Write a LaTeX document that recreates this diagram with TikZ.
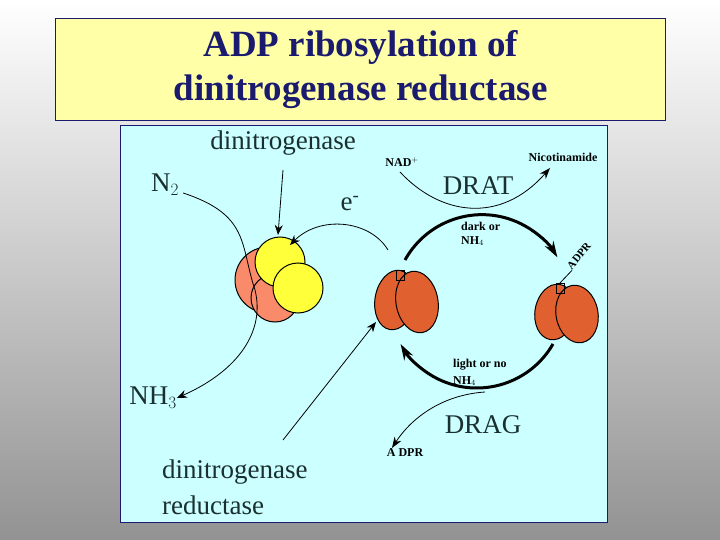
\documentclass[tikz,border=0pt]{standalone}
\usepackage{fontspec}
\setmainfont{Liberation Serif}
\usetikzlibrary{arrows.meta}
\definecolor{navy}{HTML}{1A1A6E}
\definecolor{ttl}{HTML}{FFFFA8}
\definecolor{pan}{HTML}{CCFFFF}
\definecolor{salmon}{HTML}{F98A6A}
\definecolor{yel}{HTML}{FFFF3A}
\definecolor{prot}{HTML}{E06030}
\definecolor{txt}{HTML}{1A3030}
\tikzset{thin arr/.style={-{Stealth[length=10pt,width=8pt]},line width=0.8pt},
 thick arr/.style={-{Stealth[length=16pt,width=10pt]},line width=3pt},
 big/.style={font=\fontsize{27}{30}\selectfont,text=txt,inner sep=0pt},
 small/.style={font=\bfseries\fontsize{12}{13}\selectfont,inner sep=0pt},
 blob/.style={fill=#1,draw=black,line width=1pt}}
\begin{document}
\begin{tikzpicture}[x=1pt,y=-1pt]
\shade[top color=white,bottom color=gray!85] (0,0) rectangle (720,540);
\useasboundingbox (0,0) rectangle (720,540);
\node[draw=navy,line width=1.2pt,fill=ttl,minimum width=610pt,minimum height=102pt,anchor=north west,align=center,font=\bfseries\fontsize{37}{44}\selectfont,text=navy] (title) at (55,18) {ADP ribosylation of\\dinitrogenase reductase};
\node[draw=navy,line width=1.2pt,fill=pan,minimum width=487pt,minimum height=397pt,anchor=north west] (panel) at (120,125) {};
% labels
\node[big] (dn) at (283,143) {dinitrogenase};
\node[big] (n2) at (165,185) {N$_2$};
\node[big] (nh3) at (153,398) {NH$_3$};
\node[big] (em) at (350,204) {e\textsuperscript{-}};
\node[big,anchor=west] (dr1) at (162,472) {dinitrogenase};
\node[big,anchor=west] (dr2) at (162,505) {reductase};
\node[big] (drat) at (478,186) {DRAT};
\node[big] (drag) at (483,425) {DRAG};
\node[small] (nad) at (402,162) {NAD$^{+}$};
\node[small] (nic) at (563,157) {Nicotinamide};
\node[small,anchor=west] (dk) at (461,226) {dark or};
\node[small,anchor=west] (dk2) at (461,241) {NH$_4$};
\node[small,anchor=west] (lt) at (453,365) {light or no};
\node[small,anchor=west] (lt2) at (453,381) {NH$_4$};
\node[small] (adpr2) at (405,453) {A DPR};
\node[small,rotate=50,font=\bfseries\fontsize{11}{12}\selectfont] (adpr1) at (579,256) {ADPR};
% dinitrogenase
\fill[salmon,draw=black,line width=1pt] (268,280) circle (33);
\fill[salmon,draw=black,line width=1pt] (275,298) circle (24);
\node[circle,blob=yel,minimum size=50pt] (y1) at (280,262) {};
\node[circle,blob=yel,minimum size=50pt] (y2) at (298,288) {};
% left protein
\draw[blob=prot,rotate around={-10:(395,300)}] (395,300) ellipse (20 and 30);
\draw[blob=prot,rotate around={10:(417,302)}] (417,302) ellipse (21 and 31);
\draw[line width=0.9pt] (396,270) rectangle (404,280);
\draw[blob=prot,rotate around={-10:(555,312)}] (555,312) ellipse (20 and 28);
\draw[blob=prot,rotate around={10:(577,314)}] (577,314) ellipse (21 and 29);
\draw[line width=0.9pt] (556,283) rectangle (564,293);
\draw[line width=0.8pt] (560,283) -- (adpr1.south west);
% thin arrows
\draw[thin arr] (n2.east) ++(4,8) .. controls (250,215) and (240,245) .. (255,290) .. controls (265,330) and (240,370) .. (nh3.east);
\draw[thin arr] (283,170) -- (278,235);
\draw[thin arr] (388,250) .. controls (370,220) and (320,215) .. (290,245);
\draw[thin arr] (283,440) -- (376,322);
\draw[line width=0.8pt,-{Stealth[length=11pt,width=8pt]}] (400,172) .. controls (440,215) and (500,225) .. (550,168);
\draw[line width=0.8pt,-{Stealth[length=11pt,width=8pt]}] (485,392) .. controls (440,395) and (410,420) .. (392,448);
% big cycle
\draw[thick arr] (405,260) arc (-151:-31:88);
\draw[thick arr] (553,344) arc (30:150:88);
\end{tikzpicture}
\end{document}
